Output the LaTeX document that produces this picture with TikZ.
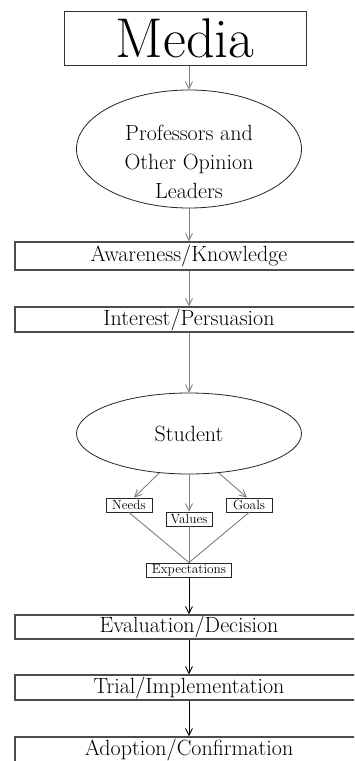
\documentclass[tikz,border=0pt]{standalone}
\usepackage{fontspec}
\usetikzlibrary{arrows.meta,shapes.geometric}
\tikzset{
  big/.style={font=\fontsize{22}{29}\selectfont},
  small/.style={font=\fontsize{13.3}{15}\selectfont},
  widebox/.style={draw=black!70, line width=1.1pt, rectangle, minimum width=348pt, inner sep=0pt, big},
  tinybox/.style={draw=black!85, line width=0.9pt, rectangle, inner sep=0pt, minimum height=14pt, small},
  oval/.style={draw=black!85, line width=0.8pt, ellipse, inner sep=0pt},
  grayarr/.style={draw=black!50, line width=0.9pt, -{Straight Barb[length=7pt,width=7pt]}},
  blackarr/.style={draw=black, line width=0.9pt, -{Straight Barb[length=7pt,width=7pt]}},
  grayline/.style={draw=black!50, line width=0.9pt}
}
\begin{document}
\begin{tikzpicture}[x=1pt,y=-1pt]
\clip (0,0) rectangle (354,761);
\fill[white] (0,0) rectangle (354,761);
% nodes
\node[draw=black!80, line width=1pt, rectangle, minimum width=242pt, minimum height=54pt, inner sep=0pt,
      font=\fontsize{56}{60}\selectfont] (media) at (185,38) {Media};
\node[oval, minimum width=225pt, minimum height=118pt] (prof) at (189,149) {};
\node[big, align=center] (proftext) at (189,162) {Professors and\\Other Opinion\\Leaders};
\node[widebox, minimum height=28pt] (aware) at (189,256) {Awareness/Knowledge};
\node[widebox, minimum height=25pt] (interest) at (189,319.5) {Interest/Persuasion};
\node[oval, minimum width=225pt, minimum height=81pt, big] (student) at (189,433.5) {Student};
\node[tinybox, minimum width=46pt] (needs) at (129,505) {Needs};
\node[tinybox, minimum width=46pt] (values) at (189,519) {Values};
\node[tinybox, minimum width=46pt] (goals) at (249,505) {Goals};
\node[tinybox, minimum width=85pt] (expect) at (189,570) {Expectations};
\node[widebox, minimum height=24pt] (eval) at (189,627) {Evaluation/Decision};
\node[widebox, minimum height=25pt] (trial) at (189,687.5) {Trial/Implementation};
\node[widebox, minimum height=26pt] (adopt) at (189,750) {Adoption/Confirmation};
% connectors
\draw[grayarr] (media.south -| prof.north) -- (prof.north);
\draw[grayarr] (prof.south) -- (aware.north);
\draw[grayarr] (aware.south) -- (interest.north);
\draw[grayarr] (interest.south) -- (student.north);
\draw[grayarr] (student.233) -- ([xshift=5pt]needs.north);
\draw[grayarr] (student.south) -- (values.north);
\draw[grayarr] (student.307) -- ([xshift=-2pt]goals.north);
\draw[grayline] (needs.south) -- (expect.north);
\draw[grayline] (values.south) -- (expect.north);
\draw[grayline] (goals.south) -- (expect.north);
\draw[blackarr] (expect.south) -- (eval.north);
\draw[blackarr] (eval.south) -- (trial.north);
\draw[blackarr] (trial.south) -- (adopt.north);
\end{tikzpicture}
\end{document}
